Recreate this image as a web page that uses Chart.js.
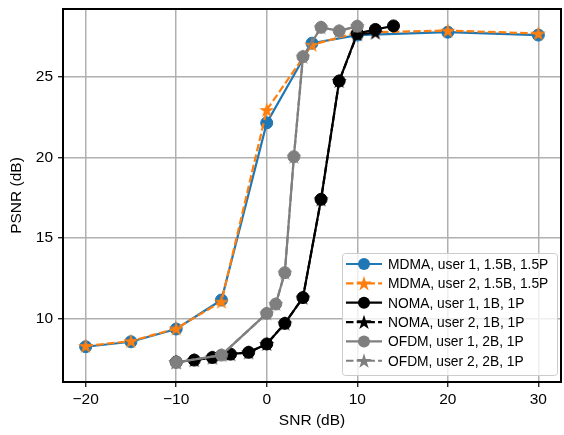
<!DOCTYPE html>
<html>
<head>
<meta charset="utf-8">
<script src="https://cdn.jsdelivr.net/npm/chart.js@4/dist/chart.umd.min.js"></script>
<style>
  body { margin: 0; background: #fff; }
</style>
</head>
<body>
<canvas id="psnrChart" width="564" height="435"></canvas>
<script>
// SNR points (dB) for each scheme
var snrMdma = [-20, -15, -10, -5, 0, 5, 10, 20, 30];
var snrNoma = [-10, -8, -6, -4, -2, 0, 2, 4, 6, 8, 10, 12, 14];
var snrNoma2 = [-10, -8, -6, -4, -2, 0, 2, 4, 6, 8, 10, 12];
var snrOfdm = [-10, -5, 0, 1, 2, 3, 4, 6, 8, 10];

// PSNR values (dB)
var mdmaUser1 = [8.25, 8.56, 9.35, 11.15, 22.15, 27.1, 27.6, 27.78, 27.6];
var mdmaUser2 = [8.3, 8.6, 9.38, 11.05, 22.95, 27.0, 27.75, 27.88, 27.7];
var nomaUser1 = [7.3, 7.42, 7.58, 7.79, 7.9, 8.42, 9.7, 11.3, 17.4, 24.75, 27.7, 27.95, 28.17];
var nomaUser2 = [7.3, 7.42, 7.58, 7.79, 7.9, 8.42, 9.7, 11.3, 17.4, 24.75, 27.65, 27.75];
var ofdmUser1 = [7.28, 7.73, 10.32, 10.9, 12.85, 20.05, 26.26, 28.08, 27.86, 28.15];
var ofdmUser2 = [7.28, 7.73, 10.32, 10.9, 12.85, 20.05, 26.26, 28.08, 27.86, 28.15];

var seriesLabels = [
  'MDMA, user 1, 1.5B, 1.5P',
  'MDMA, user 2, 1.5B, 1.5P',
  'NOMA, user 1, 1B, 1P',
  'NOMA, user 2, 1B, 1P',
  'OFDM, user 1, 2B, 1P',
  'OFDM, user 2, 2B, 1P'
];
var xTicks = [-20, -10, 0, 10, 20, 30];
var yTicks = [10, 15, 20, 25];

var FONT = "'Liberation Sans', Arial, sans-serif";

function pairs(xs, ys) {
  return ys.map(function (y, i) { return { x: xs[i], y: y }; });
}

// filled five point star like matplotlib '*'
function drawStar(ctx, cx, cy, r, color) {
  ctx.beginPath();
  for (var i = 0; i < 10; i++) {
    var rad = (i % 2 === 0) ? r : r * 0.38;
    var a = -Math.PI / 2 + i * Math.PI / 5;
    var px = cx + rad * Math.cos(a), py = cy + rad * Math.sin(a);
    if (i === 0) ctx.moveTo(px, py); else ctx.lineTo(px, py);
  }
  ctx.closePath();
  ctx.fillStyle = color;
  ctx.fill();
}

function starCanvas(color) {
  var c = document.createElement('canvas');
  c.width = 18; c.height = 18;
  drawStar(c.getContext('2d'), 9, 9.6, 8, color);
  return c;
}

function makeSet(label, xs, ys, color, dashed, idx) {
  return {
    label: label,
    data: pairs(xs, ys),
    borderColor: color,
    backgroundColor: color,
    borderWidth: 2.2,
    borderDash: dashed ? [7.5, 3.2] : [],
    pointStyle: dashed ? starCanvas(color) : 'circle',
    pointRadius: 6,
    pointHoverRadius: 6,
    pointBackgroundColor: color,
    pointBorderColor: color,
    pointBorderWidth: 1,
    tension: 0,
    fill: false,
    order: 10 - idx   // later series on top, as in the original
  };
}

var datasets = [
  makeSet(seriesLabels[0], snrMdma, mdmaUser1, '#1f77b4', false, 0),
  makeSet(seriesLabels[1], snrMdma, mdmaUser2, '#ff7f0e', true, 1),
  makeSet(seriesLabels[2], snrNoma, nomaUser1, '#000000', false, 2),
  makeSet(seriesLabels[3], snrNoma2, nomaUser2, '#000000', true, 3),
  makeSet(seriesLabels[4], snrOfdm, ofdmUser1, '#7f7f7f', false, 4),
  makeSet(seriesLabels[5], snrOfdm, ofdmUser2, '#7f7f7f', true, 5)
];

// black frame around the axes (like matplotlib spines)
var framePlugin = {
  id: 'frame',
  afterDatasetsDraw: function (chart) {
    var a = chart.chartArea, ctx = chart.ctx;
    ctx.save();
    ctx.strokeStyle = '#000';
    ctx.lineWidth = 2;
    ctx.strokeRect(a.left, a.top, a.right - a.left, a.bottom - a.top);
    ctx.restore();
  }
};

// legend inside the axes, lower right
var insideLegend = {
  id: 'insideLegend',
  afterDraw: function (chart) {
    var ctx = chart.ctx, a = chart.chartArea;
    var boxW = 215, boxH = 122;
    var bx = a.right - 4 - boxW, by = a.bottom - 7 - boxH;
    ctx.save();
    ctx.beginPath();
    ctx.roundRect(bx + 0.5, by + 0.5, boxW, boxH, 3);
    ctx.fillStyle = 'rgba(255,255,255,0.8)';
    ctx.fill();
    ctx.strokeStyle = '#cccccc';
    ctx.lineWidth = 1;
    ctx.stroke();
    ctx.font = '13.8px ' + FONT;
    ctx.textBaseline = 'middle';
    chart.data.datasets.forEach(function (ds, i) {
      var y = by + 11 + i * 19.35;
      var x0 = bx + 4, x1 = x0 + 36, xm = (x0 + x1) / 2;
      ctx.beginPath();
      ctx.setLineDash(ds.borderDash);
      ctx.strokeStyle = ds.borderColor;
      ctx.lineWidth = 2.2;
      ctx.moveTo(x0, y); ctx.lineTo(x1, y);
      ctx.stroke();
      ctx.setLineDash([]);
      if (ds.borderDash.length) {
        drawStar(ctx, xm, y + 0.6, 8, ds.borderColor);
      } else {
        ctx.beginPath();
        ctx.arc(xm, y, 6, 0, Math.PI * 2);
        ctx.fillStyle = ds.borderColor;
        ctx.fill();
      }
      ctx.fillStyle = '#000';
      ctx.fillText(ds.label, x1 + 6, y + 1);
    });
    ctx.restore();
  }
};

var ctx = document.getElementById('psnrChart');
new Chart(ctx, {
  type: 'line',
  data: { datasets: datasets },
  plugins: [framePlugin, insideLegend],
  options: {
    responsive: false,
    animation: false,
    layout: { autoPadding: false, padding: { top: 9, right: 3, left: 0, bottom: 0 } },
    plugins: {
      legend: { display: false },
      tooltip: { enabled: false }
    },
    scales: {
      x: {
        type: 'linear',
        min: -22.5,
        max: 32.5,
        afterBuildTicks: function (scale) {
          scale.ticks = xTicks.map(function (v) { return { value: v }; });
        },
        afterFit: function (scale) {
          scale.height = 53;
          scale.paddingLeft = 0;
          scale.paddingRight = 0;
        },
        grid: { color: '#b0b0b0', lineWidth: 1.5, tickLength: 5, tickColor: '#000', tickWidth: 1.2 },
        border: { display: false },
        ticks: {
          color: '#000',
          padding: 3,
          font: { family: FONT, size: 15.5 },
          callback: function (v) { return String(v).replace('-', '\u2212'); }
        },
        title: {
          display: true,
          text: 'SNR (dB)',
          color: '#000',
          padding: { top: 0, bottom: 5 },
          font: { family: FONT, size: 15.5 }
        }
      },
      y: {
        min: 6.06,
        max: 29.22,
        afterBuildTicks: function (scale) {
          scale.ticks = yTicks.map(function (v) { return { value: v }; });
        },
        afterFit: function (scale) {
          scale.width = 63;
          scale.paddingTop = 0;
          scale.paddingBottom = 0;
        },
        grid: { color: '#b0b0b0', lineWidth: 1.5, tickLength: 5, tickColor: '#000', tickWidth: 1.2 },
        border: { display: false },
        ticks: {
          color: '#000',
          padding: 5,
          font: { family: FONT, size: 15.5 }
        },
        title: {
          display: true,
          text: 'PSNR (dB)',
          color: '#000',
          padding: { top: 7, bottom: 0 },
          font: { family: FONT, size: 15.5 }
        }
      }
    }
  }
});
</script>
</body>
</html>
